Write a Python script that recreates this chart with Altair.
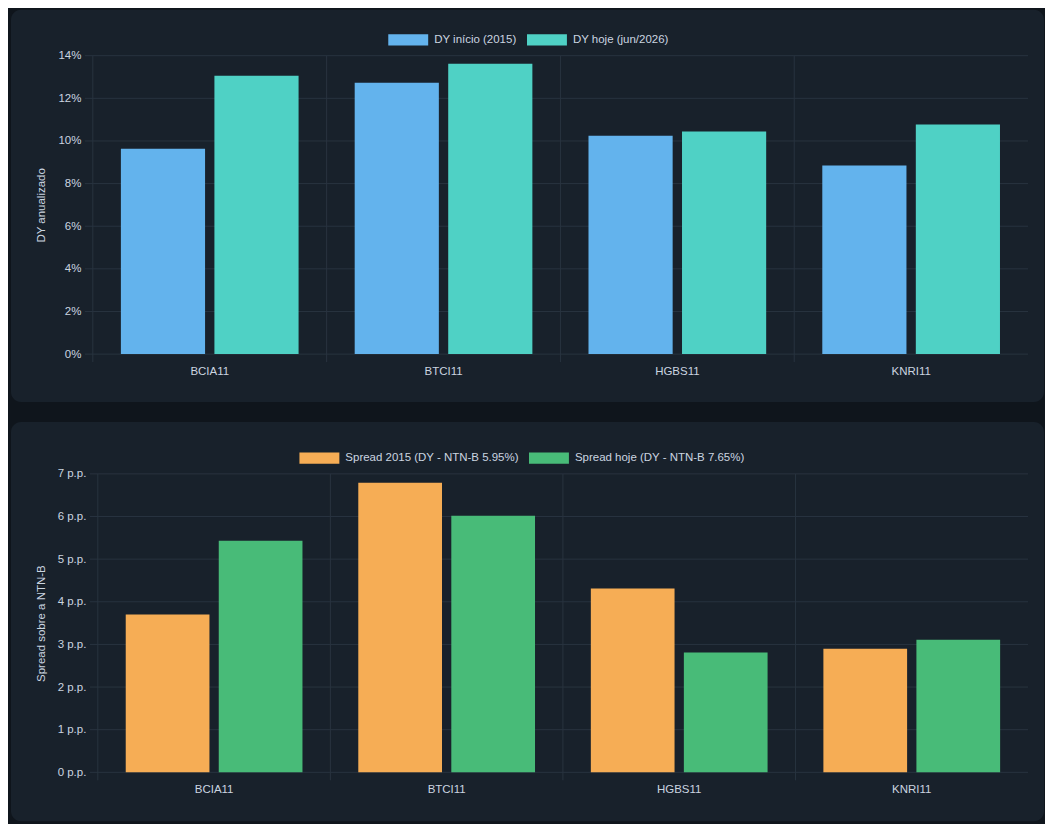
import typing as t

import altair as alt
import pandas as pd

# Data

FUNDOS = ['BCIA11', 'BTCI11', 'HGBS11', 'KNRI11']
DY_2015 = [9.64, 12.73, 10.25, 8.85]
DY_HOJE = [13.06, 13.62, 10.44, 10.77]
SPREAD_2015 = [3.70, 6.79, 4.31, 2.90]
SPREAD_HOJE = [5.43, 6.02, 2.81, 3.11]

SERIES_DY = ['DY início (2015)', 'DY hoje (jun/2026)']
SERIES_SPREAD = ['Spread 2015 (DY - NTN-B 5.95%)', 'Spread hoje (DY - NTN-B 7.65%)']
TICKS_DY = [0, 2, 4, 6, 8, 10, 12, 14]
TICKS_SPREAD = [0, 1, 2, 3, 4, 5, 6, 7]

# Style

PAGE_BG = '#0f151c'
PANEL_BG = '#18212b'
GRID = '#28333f'
TEXT = '#cbd5e0'
FONT = 'Liberation Sans, Arial, sans-serif'
COLORS_DY = ['#63b3ed', '#4fd1c5']
COLORS_SPREAD = ['#f6ad55', '#48bb78']
LEGEND_BOX = 'M-1,-0.285H1V0.285H-1Z'

# Layout: both panels share the same group origin (page x 97), the top plot
# area starts a few pixels further left, which is done with the range/offset.
ORIGIN = 97
WIDTH = 932
HEIGHT = 299

# Chart generation

def _get_long(first: t.Sequence[float], second: t.Sequence[float], series: t.Sequence[str]) -> pd.DataFrame:
  rows = []
  for fundo, a, b in zip(FUNDOS, first, second):
    rows.append({'fundo': fundo, 'serie': series[0], 'valor': a})
    rows.append({'fundo': fundo, 'serie': series[1], 'valor': b})
  return pd.DataFrame(rows)

def _create_panel(
  data: pd.DataFrame, series: t.Sequence[str], colors: t.Sequence[str],
  ticks: t.Sequence[int], y_title: str, suffix: str,
  plot_left: int, box_top: int, box_bottom: int,
  legend_x: float, legend_y: float
) -> alt.LayerChart:
  shift = ORIGIN - plot_left
  x_scale = alt.Scale(domain=FUNDOS, paddingInner=0, paddingOuter=0, range=[-shift, WIDTH])
  y_scale = alt.Scale(domain=[0, ticks[-1]], nice=False)
  # axes sit above the panel rect (zindex 1), they carry no grid of their own
  x_axis = alt.Axis(
    title=None, labelAngle=0, ticks=False, grid=False, domain=False,
    labelPadding=11, zindex=1
  )
  y_axis = alt.Axis(
    values=list(ticks), labelExpr=f"datum.value + '{suffix}'",
    grid=False, ticks=False, domain=False, labelPadding=12, zindex=1,
    offset=shift, title=y_title, titleX=41 - plot_left, titleY=HEIGHT / 2,
    titleBaseline='middle', titleAlign='center'
  )

  panel = alt.Chart(pd.DataFrame({'painel': [1]})).mark_rect(
    color=PANEL_BG, cornerRadius=10
  ).encode(
    x=alt.value(10 - ORIGIN), x2=alt.value(WIDTH + 16),
    y=alt.value(box_top), y2=alt.value(HEIGHT + box_bottom)
  )

  hgrid = alt.Chart(pd.DataFrame({'valor': ticks})).mark_rule(
    color=GRID, strokeWidth=1
  ).encode(
    y=alt.Y('valor:Q', scale=y_scale, axis=y_axis),
    x=alt.value(-shift - 8), x2=alt.value(WIDTH)
  )

  vgrid = alt.Chart(pd.DataFrame({'fundo': FUNDOS})).mark_rule(
    color=GRID, strokeWidth=1
  ).encode(
    x=alt.X('fundo:N', sort=FUNDOS, scale=x_scale, bandPosition=0, axis=x_axis),
    y=alt.value(0), y2=alt.value(HEIGHT + 8)
  )

  bars = alt.Chart(data).mark_bar().encode(
    x=alt.X('fundo:N', sort=FUNDOS, scale=x_scale, axis=x_axis),
    xOffset=alt.XOffset(
      'serie:N', sort=list(series),
      scale=alt.Scale(domain=list(series), paddingInner=0.1, paddingOuter=0.3)
    ),
    y=alt.Y('valor:Q', scale=y_scale, stack=False, axis=y_axis),
    color=alt.Color(
      'serie:N', sort=list(series),
      scale=alt.Scale(domain=list(series), range=list(colors)),
      legend=alt.Legend(
        title=None, orient='none', direction='horizontal',
        legendX=legend_x, legendY=legend_y, padding=0,
        symbolType=LEGEND_BOX, symbolSize=1600, symbolStrokeWidth=0,
        symbolOpacity=1, labelOffset=6, columnPadding=10, labelLimit=400
      )
    )
  )

  return alt.layer(panel, hgrid, vgrid, bars).properties(width=WIDTH, height=HEIGHT)

top = _create_panel(
  _get_long(DY_2015, DY_HOJE, SERIES_DY), SERIES_DY, COLORS_DY,
  TICKS_DY, 'DY anualizado', '%',
  plot_left=92, box_top=-46, box_bottom=48,
  legend_x=388 - ORIGIN, legend_y=-36
)
bottom = _create_panel(
  _get_long(SPREAD_2015, SPREAD_HOJE, SERIES_SPREAD), SERIES_SPREAD, COLORS_SPREAD,
  TICKS_SPREAD, 'Spread sobre a NTN-B', ' p.p.',
  plot_left=97, box_top=-52, box_bottom=49,
  legend_x=299 - ORIGIN, legend_y=-36
)

chart = alt.vconcat(
  top, bottom, spacing=18
).resolve_scale(
  color='independent', xOffset='independent', x='independent', y='independent'
).properties(
  background=PAGE_BG,
  padding={'left': 2, 'top': 0, 'right': 0, 'bottom': 1}
).configure_view(
  stroke='transparent'
).configure_axis(
  labelFont=FONT, titleFont=FONT, labelFontSize=11.5, titleFontSize=11.5,
  labelColor=TEXT, titleColor=TEXT, titleFontWeight='normal'
).configure_legend(
  labelFont=FONT, labelFontSize=11.5, labelColor=TEXT
)

chart.save('out.html', embed_options={'renderer': 'svg', 'actions': False})
